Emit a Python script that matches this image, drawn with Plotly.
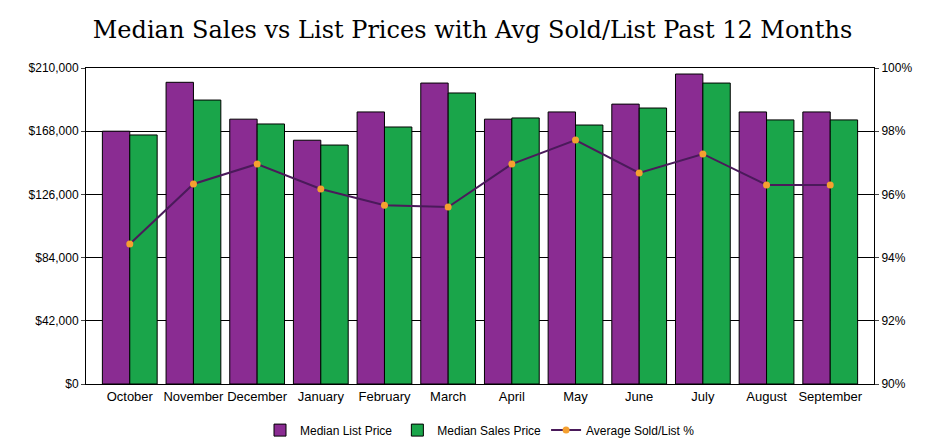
import plotly.graph_objects as go

months = ["October","November","December","January","February","March","April","May","June","July","August","September"]
list_price = [168000,200500,176000,162000,180800,200000,176000,180800,186000,206000,180800,180800]
sales_price = [165500,188700,172800,158800,170800,193400,176800,172100,183400,200000,175500,175500]
avg_pct = [94.43,96.33,96.96,96.17,95.66,95.6,96.96,97.72,96.68,97.28,96.3,96.3]
y_ticks = [0,42000,84000,126000,168000,210000]
y_labels = ["$0","$42,000","$84,000","$126,000","$168,000","$210,000"]
y2_ticks = [90,92,94,96,98,100]
y2_labels = ["90%","92%","94%","96%","98%","100%"]

fig = go.Figure()
fig.add_bar(x=months, y=list_price, name="Median List Price",
            marker=dict(color="#8a2c92", line=dict(color="black", width=1)))
fig.add_bar(x=months, y=sales_price, name="Median Sales Price",
            marker=dict(color="#1aa54a", line=dict(color="black", width=1)))
fig.add_scatter(x=months, y=avg_pct, name="Average Sold/List %", yaxis="y2",
                mode="lines+markers", line=dict(color="#4a1a5a", width=2),
                marker=dict(color="#f5a030", size=7))

fig.update_layout(
    width=929, height=439, paper_bgcolor="white", plot_bgcolor="white",
    margin=dict(l=78, r=63, t=60, b=63, autoexpand=False),
    title=dict(text="Median Sales vs List Prices with Avg Sold/List Past 12 Months",
               x=0.5, y=0.95, xanchor="center", yanchor="middle",
               font=dict(family="DejaVu Serif", size=24, color="black")),
    barmode="group", bargap=0.14, bargroupgap=0.0,
    font=dict(family="Liberation Sans", size=12, color="black"),
    xaxis=dict(showline=True, linecolor="black", mirror=True, ticks="", tickfont=dict(size=13),
               automargin=False),
    yaxis=dict(range=[0,210000], tickvals=y_ticks, ticktext=y_labels, automargin=False,
               showgrid=True, gridcolor="black", gridwidth=1,
               showline=True, linecolor="black", mirror=True, ticks="outside", ticklen=4),
    yaxis2=dict(range=[90,100], tickvals=y2_ticks, ticktext=y2_labels, overlaying="y",
                side="right", showgrid=False, showline=True, linecolor="black",
                automargin=False, ticks="outside", ticklen=4),
    legend=dict(orientation="h", x=0.5, xanchor="center", y=-0.1, yanchor="top",
                font=dict(size=12)),
)
fig.write_html("out.html")
